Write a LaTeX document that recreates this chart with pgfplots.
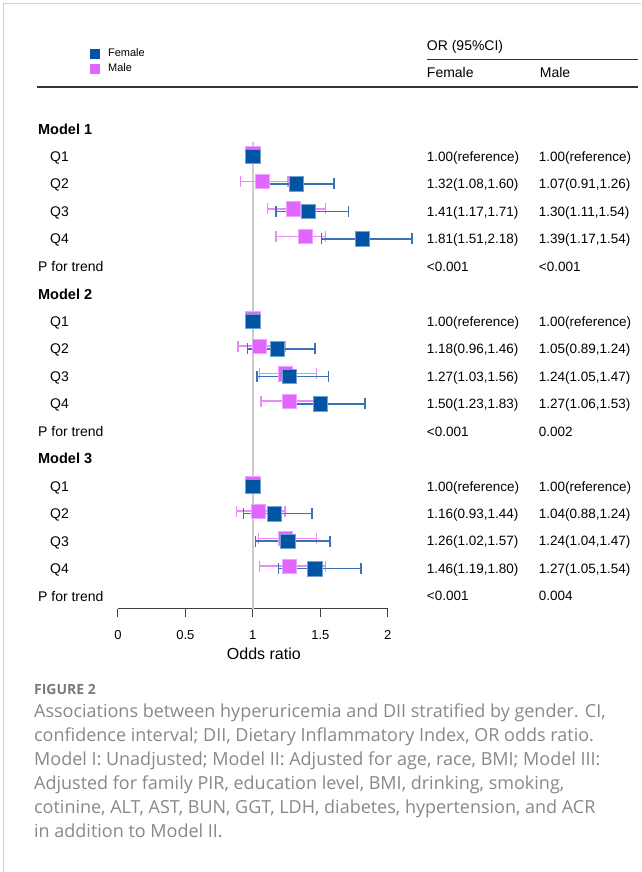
\documentclass[border=0pt]{standalone}
\usepackage{fontspec}
\setmainfont{Liberation Sans}
\newfontfamily\capfont{Open Sans}
\usepackage{pgfplots}
\pgfplotsset{compat=1.18}
\definecolor{femblue}{HTML}{0054A3}
\definecolor{femline}{HTML}{3A72B5}
\definecolor{malepink}{HTML}{E066FF}
\definecolor{maleline}{HTML}{E68CF6}
\definecolor{capgray}{HTML}{888888}
\definecolor{frame}{HTML}{D0D0D0}
\newcommand{\T}[4][]{\node[anchor=base west, inner sep=0pt, #1] at (axis cs:{(#2-118)/135},{872-#3}) {#4};}
\begin{document}
\begin{tikzpicture}
\begin{axis}[
  scale only axis, width=270pt, height=467pt,
  xmin=0, xmax=2, ymin=263, ymax=730,
  axis x line=bottom, axis y line=none,
  x axis line style={-, line width=1pt, color=black!75},
  clip=false,
  xtick={0,0.5,1,1.5,2},
  xticklabels={0,0.5,1,1.5,2},
  tick align=outside, major tick length=8pt,
  tick style={line width=1pt, color=black!75},
  xticklabel style={font=\fontsize{13}{15}\selectfont, inner sep=0pt, yshift=-14pt},
  /pgf/number format/assume math mode=true,
  legend image code/.code={\fill[#1] (2pt,-5pt) rectangle (12pt,5pt); \path (0pt,0pt) (19pt,0pt);},
  legend style={at={(axis cs:{(88-118)/135},{872-47.5})}, anchor=north west, draw=none, fill=none,
    font=\fontsize{11}{13}\selectfont, row sep=3pt, inner sep=0pt,
    nodes={inner sep=1pt, text height=8pt, text depth=2pt}},
  legend cell align=left,
]
\addlegendimage{fill=femblue, draw=none}
\addlegendentry{Female}
\addlegendimage{fill=malepink, draw=none}
\addlegendentry{Male}

% reference line
\addplot[color=black!20, line width=1.5pt, forget plot] coordinates {(1,263) (1,730)};

% male CI
\addplot[only marks, mark=none, forget plot,
  error bars/.cd, x dir=both, x explicit, error mark=|,
  error bar style={line width=1.5pt, color=maleline},
  error mark options={line width=1.5pt, color=maleline, mark size=5.5pt}]
  table[x=or, y=y, x error plus expr=\thisrow{hi}-\thisrow{or}, x error minus expr=\thisrow{or}-\thisrow{lo}] {
y or lo hi
690.6 1.07 0.91 1.26
663.1 1.30 1.11 1.54
635.6 1.39 1.17 1.54
525.6 1.05 0.89 1.24
498.1 1.24 1.05 1.47
470.6 1.27 1.06 1.53
360.6 1.04 0.88 1.24
333.1 1.24 1.04 1.47
305.6 1.27 1.05 1.54
};
% male squares
\addplot[only marks, mark=square*, mark size=7.2pt, forget plot,
  mark options={fill=malepink, draw=malepink!60!white, line width=0.6pt}]
  table[x=or, y=y] {
y or
718.1 1.00
690.6 1.07
663.1 1.30
635.6 1.39
553.1 1.00
525.6 1.05
498.1 1.24
470.6 1.27
388.1 1.00
360.6 1.04
333.1 1.24
305.6 1.27
};
% female CI
\addplot[only marks, mark=none, forget plot,
  error bars/.cd, x dir=both, x explicit, error mark=|,
  error bar style={line width=1.5pt, color=femline},
  error mark options={line width=1.5pt, color=femline, mark size=5.5pt}]
  table[x=or, y=y, x error plus expr=\thisrow{hi}-\thisrow{or}, x error minus expr=\thisrow{or}-\thisrow{lo}] {
y or lo hi
688 1.32 1.08 1.60
660.5 1.41 1.17 1.71
633 1.81 1.51 2.18
523 1.18 0.96 1.46
495.5 1.27 1.03 1.56
468 1.50 1.23 1.83
358 1.16 0.93 1.44
330.5 1.26 1.02 1.57
303 1.46 1.19 1.80
};
% female squares
\addplot[only marks, mark=square*, mark size=7.2pt, forget plot,
  mark options={fill=femblue, draw=femblue!55!white, line width=0.6pt}]
  table[x=or, y=y] {
y or
715.5 1.00
688 1.32
660.5 1.41
633 1.81
550.5 1.00
523 1.18
495.5 1.27
468 1.50
385.5 1.00
358 1.16
330.5 1.26
303 1.46
};

% frame and bounding box
\path (axis cs:{-118/135},0) rectangle (axis cs:{(641-118)/135},872);
\draw[frame, line width=1pt] (axis cs:{(4-118)/135},0) -- (axis cs:{(4-118)/135},{872-4}) -- (axis cs:{(641-118)/135},{872-4});

% header
\draw[black!80, line width=0.8pt] (axis cs:{(427-118)/135},{872-59.3}) -- (axis cs:{(638-118)/135},{872-59.3});
\draw[black!80, line width=2pt] (axis cs:{(37-118)/135},{872-87.3}) -- (axis cs:{(638-118)/135},{872-87.3});
\T[font=\fontsize{14}{16}\selectfont]{427}{50.3}{OR (95\%CI)}
\T[font=\fontsize{14}{16}\selectfont]{427}{78}{Female}
\T[font=\fontsize{14}{16}\selectfont]{540}{78}{Male}

% row labels
\T[font=\fontsize{14.5}{16}\selectfont\bfseries]{38}{134.2}{Model 1}
\T[font=\fontsize{14}{16}\selectfont]{50}{161.5}{Q1}
\T[font=\fontsize{14}{16}\selectfont]{50}{189}{Q2}
\T[font=\fontsize{14}{16}\selectfont]{50}{216.5}{Q3}
\T[font=\fontsize{14}{16}\selectfont]{50}{244}{Q4}
\T[font=\fontsize{14}{16}\selectfont]{38}{271.5}{P for trend}
\T[font=\fontsize{14.5}{16}\selectfont\bfseries]{38}{299.2}{Model 2}
\T[font=\fontsize{14}{16}\selectfont]{50}{326.5}{Q1}
\T[font=\fontsize{14}{16}\selectfont]{50}{354}{Q2}
\T[font=\fontsize{14}{16}\selectfont]{50}{381.5}{Q3}
\T[font=\fontsize{14}{16}\selectfont]{50}{409}{Q4}
\T[font=\fontsize{14}{16}\selectfont]{38}{436.5}{P for trend}
\T[font=\fontsize{14.5}{16}\selectfont\bfseries]{38}{464.2}{Model 3}
\T[font=\fontsize{14}{16}\selectfont]{50}{491.5}{Q1}
\T[font=\fontsize{14}{16}\selectfont]{50}{519}{Q2}
\T[font=\fontsize{14}{16}\selectfont]{50}{546.5}{Q3}
\T[font=\fontsize{14}{16}\selectfont]{50}{574}{Q4}
\T[font=\fontsize{14}{16}\selectfont]{38}{601.5}{P for trend}

% table values
\T[font=\fontsize{13.5}{16}\selectfont]{427}{161.3}{1.00(reference)}
\T[font=\fontsize{13.5}{16}\selectfont]{539}{161.3}{1.00(reference)}
\T[font=\fontsize{13.5}{16}\selectfont]{427}{188.8}{1.32(1.08,1.60)}
\T[font=\fontsize{13.5}{16}\selectfont]{539}{188.8}{1.07(0.91,1.26)}
\T[font=\fontsize{13.5}{16}\selectfont]{427}{216.3}{1.41(1.17,1.71)}
\T[font=\fontsize{13.5}{16}\selectfont]{539}{216.3}{1.30(1.11,1.54)}
\T[font=\fontsize{13.5}{16}\selectfont]{427}{243.8}{1.81(1.51,2.18)}
\T[font=\fontsize{13.5}{16}\selectfont]{539}{243.8}{1.39(1.17,1.54)}
\T[font=\fontsize{13.5}{16}\selectfont]{427}{271.3}{<0.001}
\T[font=\fontsize{13.5}{16}\selectfont]{539}{271.3}{<0.001}
\T[font=\fontsize{13.5}{16}\selectfont]{427}{326.3}{1.00(reference)}
\T[font=\fontsize{13.5}{16}\selectfont]{539}{326.3}{1.00(reference)}
\T[font=\fontsize{13.5}{16}\selectfont]{427}{353.8}{1.18(0.96,1.46)}
\T[font=\fontsize{13.5}{16}\selectfont]{539}{353.8}{1.05(0.89,1.24)}
\T[font=\fontsize{13.5}{16}\selectfont]{427}{381.3}{1.27(1.03,1.56)}
\T[font=\fontsize{13.5}{16}\selectfont]{539}{381.3}{1.24(1.05,1.47)}
\T[font=\fontsize{13.5}{16}\selectfont]{427}{408.8}{1.50(1.23,1.83)}
\T[font=\fontsize{13.5}{16}\selectfont]{539}{408.8}{1.27(1.06,1.53)}
\T[font=\fontsize{13.5}{16}\selectfont]{427}{436.3}{<0.001}
\T[font=\fontsize{13.5}{16}\selectfont]{539}{436.3}{0.002}
\T[font=\fontsize{13.5}{16}\selectfont]{427}{491.3}{1.00(reference)}
\T[font=\fontsize{13.5}{16}\selectfont]{539}{491.3}{1.00(reference)}
\T[font=\fontsize{13.5}{16}\selectfont]{427}{518.8}{1.16(0.93,1.44)}
\T[font=\fontsize{13.5}{16}\selectfont]{539}{518.8}{1.04(0.88,1.24)}
\T[font=\fontsize{13.5}{16}\selectfont]{427}{546.3}{1.26(1.02,1.57)}
\T[font=\fontsize{13.5}{16}\selectfont]{539}{546.3}{1.24(1.04,1.47)}
\T[font=\fontsize{13.5}{16}\selectfont]{427}{573.8}{1.46(1.19,1.80)}
\T[font=\fontsize{13.5}{16}\selectfont]{539}{573.8}{1.27(1.05,1.54)}
\T[font=\fontsize{13.5}{16}\selectfont]{427}{601.3}{<0.001}
\T[font=\fontsize{13.5}{16}\selectfont]{539}{601.3}{0.004}

% x label
\node[anchor=base, inner sep=0pt, font=\fontsize{16}{18}\selectfont] at (axis cs:{(264-118)/135},{872-659.7}) {Odds ratio};

% caption
\T[font=\capfont\fontsize{14}{16}\selectfont\bfseries, text=capgray!90!black]{34}{695}{FIGURE 2}
\T[font=\capfont\fontsize{18}{20}\selectfont, text=capgray]{34}{718.3}{Associations between hyperuricemia and DII stratified by gender. CI,}
\T[font=\capfont\fontsize{18}{20}\selectfont, text=capgray]{34}{742.3}{confidence interval; DII, Dietary Inflammatory Index, OR odds ratio.}
\T[font=\capfont\fontsize{18}{20}\selectfont, text=capgray]{34}{766.3}{Model I: Unadjusted; Model II: Adjusted for age, race, BMI; Model III:}
\T[font=\capfont\fontsize{18}{20}\selectfont, text=capgray]{34}{790.3}{Adjusted for family PIR, education level, BMI, drinking, smoking,}
\T[font=\capfont\fontsize{18}{20}\selectfont, text=capgray]{34}{814.3}{cotinine, ALT, AST, BUN, GGT, LDH, diabetes, hypertension, and ACR}
\T[font=\capfont\fontsize{18}{20}\selectfont, text=capgray]{34}{838.3}{in addition to Model II.}
\end{axis}
\end{tikzpicture}
\end{document}
